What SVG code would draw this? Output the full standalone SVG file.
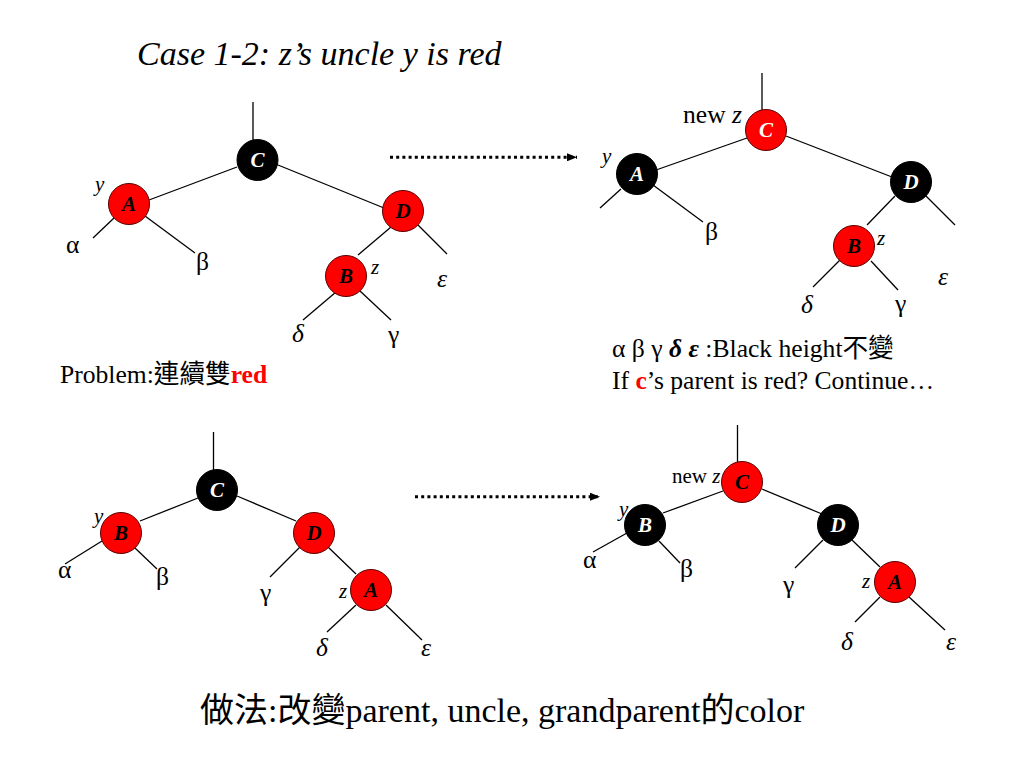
<svg xmlns="http://www.w3.org/2000/svg" width="1024" height="768" viewBox="0 0 1024 768">
<defs>
<style>
text{font-family:"Liberation Serif","Noto Sans CJK TC",serif;fill:#000}
.e{stroke:#000;stroke-width:1.3;fill:none}
.red{fill:#ff0000;stroke:#5a0000;stroke-width:1}
.blk{fill:#000;stroke:#000;stroke-width:1}
.lb{font-size:21px;font-weight:bold;font-style:italic;text-anchor:middle}
.lw{fill:#fff}
.g{font-size:25.6px}
.gi{font-size:25.6px;font-style:italic}
.s{font-size:21px;font-style:italic}
.dot{stroke:#000;stroke-width:3;stroke-dasharray:3 3.2;fill:none}
</style>
<marker id="ah" viewBox="0 0 10 8" refX="10" refY="4" markerWidth="10" markerHeight="8" markerUnits="userSpaceOnUse" orient="auto">
<path d="M0,0 L10,4 L0,8 Z" fill="#000"/>
</marker>
</defs>
<rect width="1024" height="768" fill="#fff"/>
<text x="137" y="65" style="font-size:34px;font-style:italic">Case 1-2: z’s uncle y is red</text>

<g id="connectors">
<!-- top-left -->
<line class="e" x1="253" y1="102" x2="253" y2="140"/>
<line class="e" x1="237" y1="167" x2="149" y2="200"/>
<line class="e" x1="278" y1="165" x2="384" y2="208"/>
<line class="e" x1="114" y1="218" x2="93" y2="238"/>
<line class="e" x1="145" y1="216" x2="195" y2="253"/>
<line class="e" x1="391" y1="227" x2="358" y2="255"/>
<line class="e" x1="418" y1="225" x2="447" y2="254"/>
<line class="e" x1="336" y1="292" x2="303" y2="320"/>
<line class="e" x1="360" y1="291" x2="391" y2="320"/>
<!-- top-right -->
<line class="e" x1="762" y1="73" x2="762" y2="110"/>
<line class="e" x1="747" y1="138" x2="656" y2="170"/>
<line class="e" x1="786" y1="136" x2="892" y2="177"/>
<line class="e" x1="621" y1="189" x2="600" y2="208"/>
<line class="e" x1="653" y1="185" x2="703" y2="222"/>
<line class="e" x1="895" y1="196" x2="867" y2="225"/>
<line class="e" x1="926" y1="196" x2="955" y2="225"/>
<line class="e" x1="840" y1="260" x2="813" y2="287"/>
<line class="e" x1="871" y1="261" x2="898" y2="290"/>
<!-- bottom-left -->
<line class="e" x1="213.5" y1="432" x2="213.5" y2="470"/>
<line class="e" x1="198" y1="498" x2="140" y2="521"/>
<line class="e" x1="237" y1="496" x2="296" y2="521"/>
<line class="e" x1="102" y1="541" x2="65" y2="564"/>
<line class="e" x1="135" y1="548" x2="157" y2="569"/>
<line class="e" x1="300" y1="547" x2="270" y2="577"/>
<line class="e" x1="328" y1="547" x2="356" y2="574"/>
<line class="e" x1="356" y1="605" x2="327" y2="632"/>
<line class="e" x1="386" y1="605" x2="422" y2="640"/>
<!-- bottom-right -->
<line class="e" x1="737.5" y1="425" x2="737.5" y2="462"/>
<line class="e" x1="723" y1="491" x2="663" y2="513"/>
<line class="e" x1="762" y1="489" x2="822" y2="514"/>
<line class="e" x1="627" y1="533" x2="593" y2="552"/>
<line class="e" x1="659" y1="541" x2="680" y2="563"/>
<line class="e" x1="823" y1="540" x2="795" y2="568"/>
<line class="e" x1="852" y1="540" x2="880" y2="567"/>
<line class="e" x1="880" y1="597" x2="855" y2="622"/>
<line class="e" x1="909" y1="597" x2="945" y2="630"/>
<!-- arrows -->
<line class="dot" x1="390" y1="157.3" x2="577" y2="157.3" marker-end="url(#ah)"/>
<line class="dot" x1="415" y1="496.7" x2="600" y2="496.7" marker-end="url(#ah)"/>
</g>

<!-- top-left tree -->
<g id="tl-C"><circle class="blk" cx="257.5" cy="160" r="20.5"/><text class="lb lw" x="257.5" y="167">C</text></g>
<g id="tl-A"><circle class="red" cx="129" cy="204" r="20.5"/><text class="lb" x="129" y="211">A</text></g>
<g id="tl-D"><circle class="red" cx="403" cy="211" r="20.5"/><text class="lb" x="403" y="218">D</text></g>
<g id="tl-B"><circle class="red" cx="346" cy="276" r="20.5"/><text class="lb" x="346" y="283">B</text></g>
<g id="tl-labels">
<text class="s" x="95" y="191">y</text>
<text class="s" x="371" y="274">z</text>
<text class="g" x="66" y="253">α</text>
<text class="g" x="196" y="270">β</text>
<text class="gi" x="437" y="287">ε</text>
<text class="gi" x="292" y="342">δ</text>
<text class="g" x="388" y="343">γ</text>
</g>
<text x="60" y="383" style="font-size:25.6px">Problem:連續雙<tspan style="font-weight:bold;fill:#ff0000">red</tspan></text>

<!-- top-right tree -->
<text x="683" y="123" style="font-size:25.6px">new <tspan font-style="italic">z</tspan></text>
<g id="tr-C"><circle class="red" cx="766" cy="130" r="20.5"/><text class="lb lw" x="766" y="137">C</text></g>
<g id="tr-A"><circle class="blk" cx="637" cy="174" r="20.5"/><text class="lb lw" x="637" y="181">A</text></g>
<g id="tr-D"><circle class="blk" cx="911" cy="182" r="20.5"/><text class="lb lw" x="911" y="189">D</text></g>
<g id="tr-B"><circle class="red" cx="854" cy="246" r="20.5"/><text class="lb" x="854" y="253">B</text></g>
<g id="tr-labels">
<text class="s" x="602" y="163">y</text>
<text class="s" x="877" y="245">z</text>
<text class="g" x="705" y="240">β</text>
<text class="gi" x="938" y="285">ε</text>
<text class="gi" x="801" y="313">δ</text>
<text class="g" x="895" y="312">γ</text>
</g>
<text x="612" y="357" style="font-size:25.6px">α β γ <tspan style="font-weight:bold;font-style:italic">δ ε</tspan> :Black height不變</text>
<text x="612" y="389" style="font-size:25.6px">If <tspan style="font-weight:bold;fill:#ff0000">c</tspan>’s parent is red? Continue…</text>

<!-- bottom-left tree -->
<g id="bl-C"><circle class="blk" cx="217" cy="490" r="20.5"/><text class="lb lw" x="217" y="497">C</text></g>
<g id="bl-B"><circle class="red" cx="121" cy="533" r="20.5"/><text class="lb" x="121" y="540">B</text></g>
<g id="bl-D"><circle class="red" cx="314" cy="533" r="20.5"/><text class="lb" x="314" y="540">D</text></g>
<g id="bl-A"><circle class="red" cx="371" cy="590" r="20.5"/><text class="lb" x="371" y="597">A</text></g>
<g id="bl-labels">
<text class="s" x="94" y="523">y</text>
<text class="s" x="339" y="598">z</text>
<text class="g" x="58" y="578">α</text>
<text class="g" x="156" y="585">β</text>
<text class="g" x="260" y="601">γ</text>
<text class="gi" x="316" y="656">δ</text>
<text class="gi" x="421" y="656">ε</text>
</g>

<!-- bottom-right tree -->
<text x="672" y="483" style="font-size:21px">new <tspan font-style="italic">z</tspan></text>
<g id="br-C"><circle class="red" cx="742" cy="482" r="20.5"/><text class="lb" x="742" y="489">C</text></g>
<g id="br-B"><circle class="blk" cx="645" cy="525" r="20.5"/><text class="lb lw" x="645" y="532">B</text></g>
<g id="br-D"><circle class="blk" cx="838" cy="525" r="20.5"/><text class="lb lw" x="838" y="532">D</text></g>
<g id="br-A"><circle class="red" cx="895" cy="582" r="20.5"/><text class="lb" x="895" y="589">A</text></g>
<g id="br-labels">
<text class="s" x="619" y="516">y</text>
<text class="s" x="862" y="588">z</text>
<text class="g" x="583" y="568">α</text>
<text class="g" x="680" y="577">β</text>
<text class="g" x="783" y="593">γ</text>
<text class="gi" x="841" y="650">δ</text>
<text class="gi" x="946" y="650">ε</text>
</g>

<text x="200" y="722" style="font-size:34px">做法:改變parent, uncle, grandparent的color</text>
</svg>
